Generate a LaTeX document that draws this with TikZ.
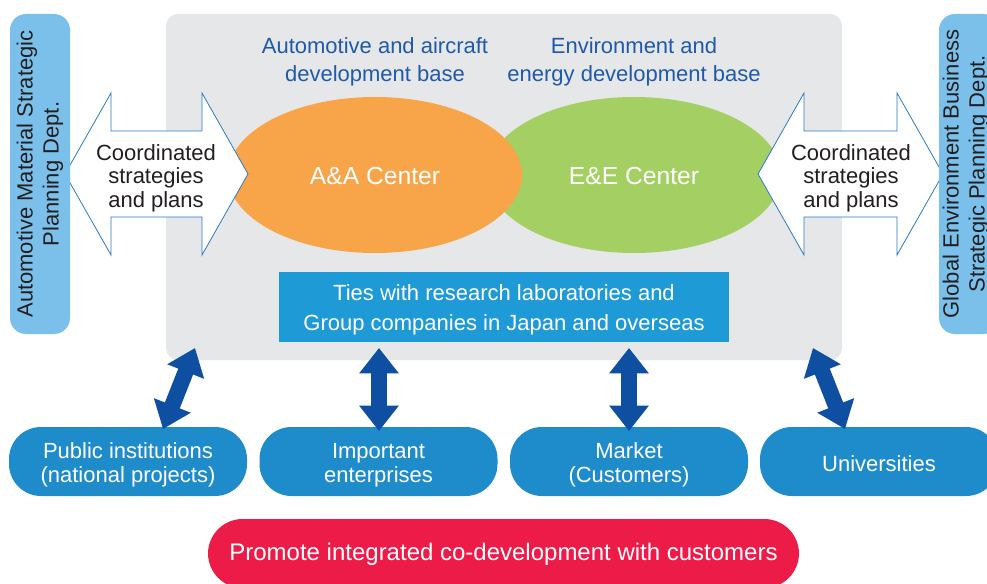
\documentclass[tikz,border=0pt]{standalone}
\usepackage{fontspec}
\setmainfont{Liberation Sans}
\usetikzlibrary{arrows.meta,shapes.geometric}
\definecolor{graybg}{HTML}{E6E7E8}
\definecolor{sideblue}{HTML}{7BC0EA}
\definecolor{tiesblue}{HTML}{1E9AD7}
\definecolor{boxblue}{HTML}{1E8BCB}
\definecolor{arrowblue}{HTML}{0E4FA1}
\definecolor{orangeA}{HTML}{F8A54A}
\definecolor{greenE}{HTML}{A4CF62}
\definecolor{titleblue}{HTML}{1F5AAA}
\definecolor{outlineblue}{HTML}{2B7BC0}
\definecolor{redbox}{HTML}{EC1B47}
\definecolor{textdark}{HTML}{231F20}
\tikzset{
  txt/.style={align=center, inner sep=0pt, font=\fontsize{16.5pt}{17.6pt}\selectfont},
  center/.style={ellipse, minimum width=220.5pt, minimum height=117pt, inner sep=0pt},
  sidebox/.style={rectangle, rounded corners=12pt, fill=sideblue, minimum width=45pt, minimum height=240pt, inner sep=0pt},
  partner/.style={rectangle, rounded corners=24pt, fill=boxblue, minimum width=178.5pt, minimum height=51.75pt, inner sep=0pt},
  ptxt/.style={txt, text=white, font=\fontsize{16.5pt}{18pt}\selectfont},
  dblarrow/.style={fill=white, draw=outlineblue, line width=0.6pt, line join=miter},
  link/.style={draw=arrowblue, line width=12pt, {Triangle[width=28.5pt,length=19pt]}-{Triangle[width=28.5pt,length=19pt]}},
}
\begin{document}
\begin{tikzpicture}[x=0.75pt,y=-0.75pt]
\useasboundingbox (0,0) rectangle (987,584);
\clip (0,0) rectangle (987,584);

% main gray area
\node[rectangle, rounded corners=9pt, fill=graybg, minimum width=507pt, minimum height=259.5pt, inner sep=0pt] (main) at (504,187) {};

% titles
\node[txt, text=titleblue, font=\fontsize{16.5pt}{21pt}\selectfont] (t1) at (375,61.5) {Automotive and aircraft\\development base};
\node[txt, text=titleblue, font=\fontsize{16.5pt}{21pt}\selectfont] (t2) at (634,61.5) {Environment and\\energy development base};

% centers
\node[center, fill=greenE] (ee) at (634,175) {};
\node[center, fill=orangeA] (aa) at (375,175) {};
\node[txt, text=white, font=\fontsize{18.5pt}{20pt}\selectfont] (aat) at (375,176.5) {A\&A Center};
\node[txt, text=white, font=\fontsize{18.5pt}{20pt}\selectfont] (eet) at (634,176.5) {E\&E Center};

% coordination double arrows
\path[dblarrow] (65,174) -- (111,93) -- (111,131) -- (202,131) -- (202,93) -- (248,174) -- (202,255) -- (202,217) -- (111,217) -- (111,255) -- cycle;
\node[txt, text=textdark] (c1) at (156,178) {Coordinated\\strategies\\and plans};
\path[dblarrow] (758,174) -- (804,93) -- (804,131) -- (897,131) -- (897,93) -- (943,174) -- (897,255) -- (897,217) -- (804,217) -- (804,255) -- cycle;
\node[txt, text=textdark] (c2) at (851,178) {Coordinated\\strategies\\and plans};

% side departments
\node[sidebox] (ld) at (40,174) {};
\node[txt, text=textdark, rotate=90, font=\fontsize{16.5pt}{19.5pt}\selectfont] (ldt) at (40,174) {Automotive Material Strategic\\Planning Dept.};
\node[sidebox] (rd) at (969,174) {};
\node[txt, text=textdark, rotate=90, font=\fontsize{16.5pt}{19.5pt}\selectfont] (rdt) at (966,174) {Global Environment Business\\Strategic Planning Dept.};

% ties box
\node[rectangle, fill=tiesblue, minimum width=337.5pt, minimum height=52.5pt, inner sep=0pt] (ties) at (504,307) {};
\node[txt, text=white, font=\fontsize{16.5pt}{22.5pt}\selectfont] (tiest) at (504,309.5) {Ties with research laboratories and\\Group companies in Japan and overseas};

% partners
\node[partner] (p1) at (128,461.5) {};
\node[partner] (p2) at (378.5,461.5) {};
\node[partner] (p3) at (629,461.5) {};
\node[partner] (p4) at (879,461.5) {};
\node[ptxt] (p1t) at (128,465) {Public institutions\\(national projects)};
\node[ptxt] (p2t) at (378.5,465) {Important\\enterprises};
\node[ptxt] (p3t) at (629,465) {Market\\(Customers)};
\node[ptxt] (p4t) at (879,463.5) {Universities};

% links
\coordinate (a1t) at (195,348); \coordinate (a1b) at (163,429);
\coordinate (a2t) at (379,348); \coordinate (a2b) at (379,431);
\coordinate (a3t) at (629,348); \coordinate (a3b) at (629,431);
\coordinate (a4t) at (813,348); \coordinate (a4b) at (845,429);
\draw[link] (a1t) -- (a1b);
\draw[link] (a2t) -- (a2b);
\draw[link] (a3t) -- (a3b);
\draw[link] (a4t) -- (a4b);

% bottom banner
\node[rectangle, rounded corners=26pt, fill=redbox, minimum width=443.25pt, minimum height=51.75pt, inner sep=0pt] (promo) at (503.5,553.5) {};
\node[txt, text=white, font=\fontsize{18pt}{19pt}\selectfont] (promot) at (503.5,554.5) {Promote integrated co-development with customers};
\end{tikzpicture}
\end{document}
